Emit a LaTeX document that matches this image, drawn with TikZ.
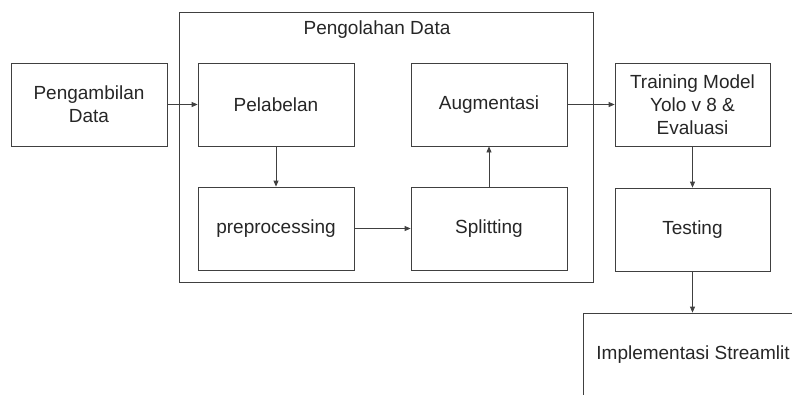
\documentclass[tikz,border=0pt]{standalone}
\usepackage{fontspec}
\setmainfont{Liberation Sans}
\usetikzlibrary{arrows.meta}
\begin{document}
\begin{tikzpicture}[x=1pt,y=-1pt,
  box/.style={draw=black!75, line width=0.8pt, minimum width=156pt, minimum height=83pt, inner sep=0pt, align=center, text=black!85, font=\fontsize{19}{23}\selectfont},
  conn/.style={draw=black!75, line width=0.8pt, -{Triangle[length=6pt,width=5pt]}}]
\useasboundingbox (0,0) rectangle (792,394);
\clip (0,0) rectangle (792,394);
\node[draw=black!75, line width=0.8pt, minimum width=414pt, minimum height=270pt, inner sep=0pt] (grp) at (386,147) {};
\node[text=black!85, font=\fontsize{19}{23}\selectfont] (title) at (377,30) {Pengolahan Data};
\node[box] (ambil) at (89,104.5) {Pengambilan\\Data};
\node[box] (label) at (276,104.5) {Pelabelan};
\node[box] (pre) at (276,228.5) {preprocessing};
\node[box] (aug) at (489,104.5) {Augmentasi};
\node[box] (split) at (489,228.5) {Splitting};
\node[box, minimum width=155pt] (train) at (692.5,104.5) {Training Model\\Yolo v 8 \&\\Evaluasi};
\node[box, minimum width=155pt] (test) at (692.5,229.5) {Testing};
\node[box, minimum width=220pt, minimum height=84pt] (impl) at (693,355) {Implementasi Streamlit};
\draw[conn] (ambil) -- (label);
\draw[conn] (label) -- (pre);
\draw[conn] (pre) -- (split);
\draw[conn] (split) -- (aug);
\draw[conn] (aug) -- (train);
\draw[conn] (train) -- (test);
\draw[conn] (test.south) -- (test.south |- impl.north);
\end{tikzpicture}
\end{document}
